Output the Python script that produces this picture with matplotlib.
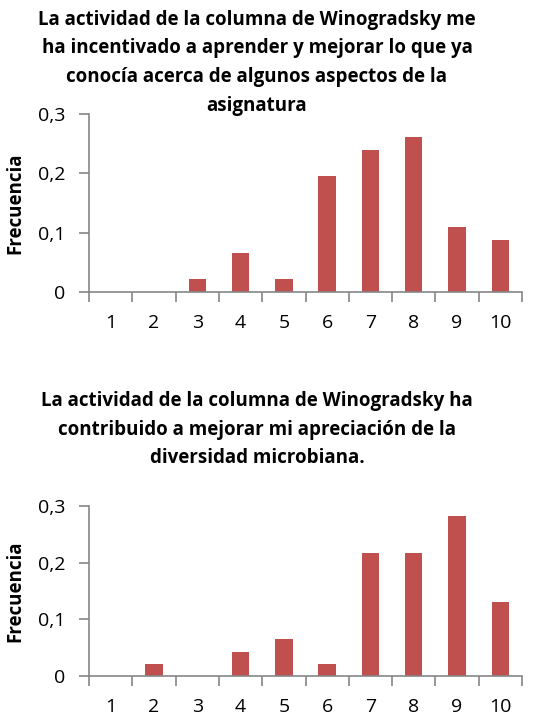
import numpy as np
import matplotlib
matplotlib.use("Agg")
import matplotlib.pyplot as plt
from matplotlib.ticker import FixedLocator, FuncFormatter

plt.rcParams['font.family'] = ['Open Sans', 'DejaVu Sans']

scores = [1, 2, 3, 4, 5, 6, 7, 8, 9, 10]
freq_top = [0, 0, 0.022, 0.065, 0.022, 0.196, 0.239, 0.261, 0.109, 0.087]
freq_bottom = [0, 0.022, 0, 0.043, 0.065, 0.022, 0.217, 0.217, 0.283, 0.130]
yticks = [0, 0.1, 0.2, 0.3]

title_top = ["La actividad de la columna de Winogradsky me",
             "ha incentivado a aprender y mejorar lo que ya",
             "conocía acerca de algunos aspectos de la",
             "asignatura"]
title_bottom = ["La actividad de la columna de Winogradsky ha",
                "contribuido a mejorar mi apreciación de la",
                "diversidad microbiana."]

bar_color = '#C0504D'
axis_color = '#868686'

W, H = 552, 717
fig = plt.figure(figsize=(W / 100, H / 100), dpi=100)


def make_axes(rect, values):
    ax = fig.add_axes(rect)
    ax.bar(scores, values, width=0.4, color=bar_color, zorder=2)
    ax.set_xlim(0.5, 10.5)
    ax.set_ylim(0, 0.3)
    for s in ['top', 'right']:
        ax.spines[s].set_visible(False)
    for s in ['left', 'bottom']:
        ax.spines[s].set_color(axis_color)
        ax.spines[s].set_linewidth(1.2)
    ax.set_yticks(yticks)
    ax.yaxis.set_major_formatter(FuncFormatter(lambda v, p: ('%g' % v).replace('.', ',')))
    ax.set_xticks(scores)
    ax.set_xticklabels([str(s) for s in scores])
    ax.xaxis.set_minor_locator(FixedLocator(np.arange(0.5, 11, 1)))
    ax.tick_params(axis='x', which='major', length=0, pad=16, labelsize=14)
    ax.tick_params(axis='x', which='minor', length=7, width=1.2, color=axis_color, direction='out')
    ax.tick_params(axis='y', length=7, width=1.2, color=axis_color, pad=10, labelsize=14)
    ax.set_ylabel('Frecuencia', fontsize=13.5, fontweight='bold')
    ax.yaxis.set_label_coords(-0.148, 0.5)
    return ax


def title_lines(lines, y_first, step=28.5):
    for i, line in enumerate(lines):
        fig.text(257 / W, 1 - (y_first + i * step) / H, line, ha='center', va='center',
                 fontsize=13.5, fontweight='bold')


ax1 = make_axes([89 / W, 1 - 292 / H, 433 / W, 178 / H], freq_top)
ax2 = make_axes([89 / W, 1 - 676 / H, 433 / W, 170 / H], freq_bottom)

title_lines(title_top, 20)
title_lines(title_bottom, 401)

fig.savefig('out.png', dpi=100)
